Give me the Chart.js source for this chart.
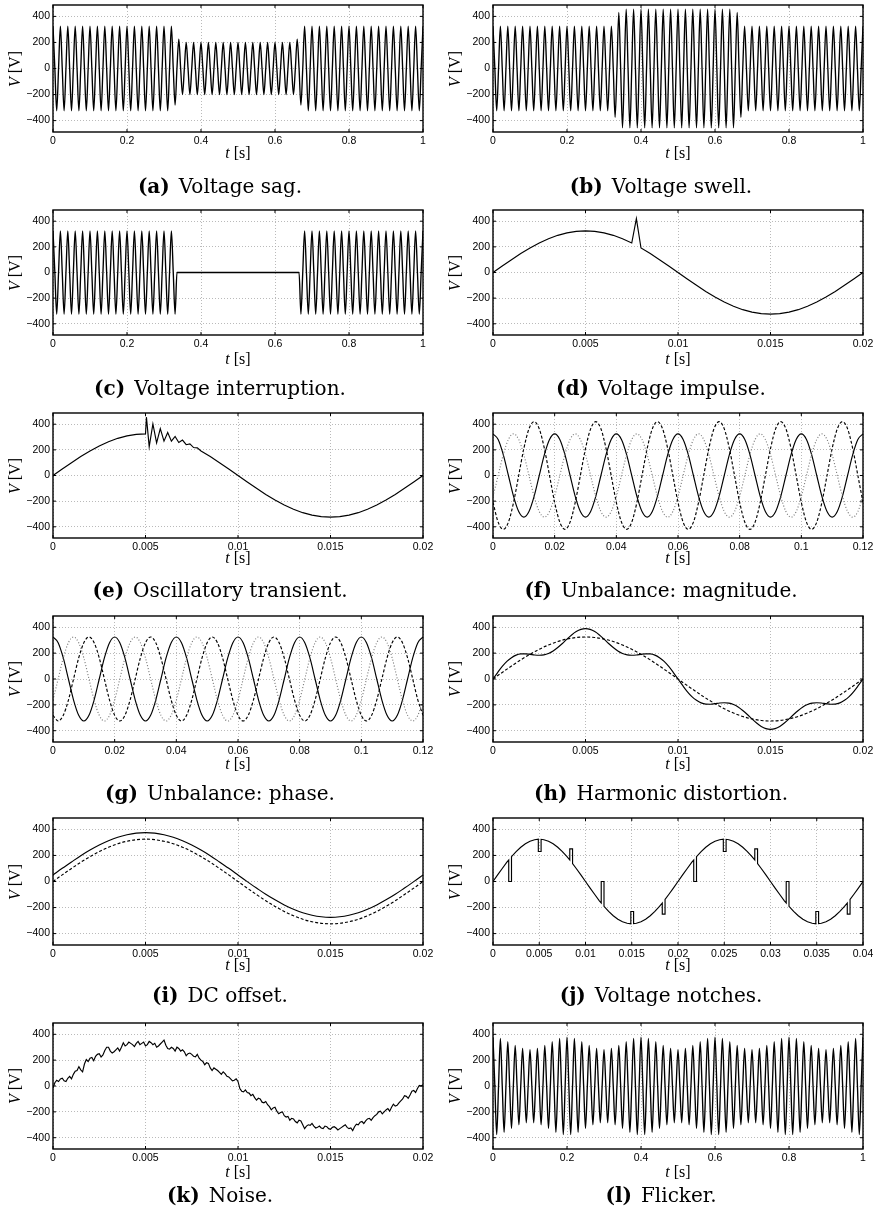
<!DOCTYPE html>
<html>
<head>
<meta charset="utf-8">
<script src="https://cdn.jsdelivr.net/npm/chart.js@4.4.0/dist/chart.umd.min.js"></script>
<style>
    body { margin: 0; background: #fff; width: 881px; height: 1216px; position: relative; overflow: hidden; }
    canvas { position: absolute; }
    .lab { position: absolute; font-family: 'Liberation Serif', serif; font-size: 16px; color: #000; white-space: nowrap; transform: translate(-50%, -50%); }
    .ylab { transform: translate(-50%, -50%) rotate(-90deg); }
    .cap { position: absolute; font-family: 'DejaVu Serif', serif; font-size: 20px; color: #000; white-space: nowrap; transform: translate(-50%, -50%); }
    .cap b { margin-right: 9px; }
</style>
</head>
<body>
<script>
// Tick values
const ticksV = [-400, -200, 0, 200, 400];
const ticksSec = [0, 0.2, 0.4, 0.6, 0.8, 1];
const ticksCycle = [0, 0.005, 0.01, 0.015, 0.02];
const ticksUnb = [0, 0.02, 0.04, 0.06, 0.08, 0.1, 0.12];
const ticksNotch = [0, 0.005, 0.01, 0.015, 0.02, 0.025, 0.03, 0.035, 0.04];

// Half-cycle peaks (one every 0.01 s) for the 1 s records
const sagPeaks = [
    325, -325, 325, -325, 325, -325, 325, -325, 325, -325,
    325, -325, 325, -325, 325, -325, 325, -325, 325, -325,
    325, -325, 325, -325, 325, -325, 325, -325, 325, -325,
    325, -325, 325, -280, 225, -200, 200, -200, 200, -200,
    200, -200, 200, -200, 200, -200, 200, -200, 200, -200,
    200, -200, 200, -200, 200, -200, 200, -200, 200, -200,
    200, -200, 200, -200, 200, -200, 225, -280, 325, -325,
    325, -325, 325, -325, 325, -325, 325, -325, 325, -325,
    325, -325, 325, -325, 325, -325, 325, -325, 325, -325,
    325, -325, 325, -325, 325, -325, 325, -325, 325, -325,
    325
];
const swellPeaks = [
    325, -325, 325, -325, 325, -325, 325, -325, 325, -325,
    325, -325, 325, -325, 325, -325, 325, -325, 325, -325,
    325, -325, 325, -325, 325, -325, 325, -325, 325, -325,
    325, -325, 325, -375, 430, -455, 455, -455, 455, -455,
    455, -455, 455, -455, 455, -455, 455, -455, 455, -455,
    455, -455, 455, -455, 455, -455, 455, -455, 455, -455,
    455, -455, 455, -455, 455, -455, 430, -375, 325, -325,
    325, -325, 325, -325, 325, -325, 325, -325, 325, -325,
    325, -325, 325, -325, 325, -325, 325, -325, 325, -325,
    325, -325, 325, -325, 325, -325, 325, -325, 325, -325,
    325
];
const interPeaks = [
    325, -325, 325, -325, 325, -325, 325, -325, 325, -325,
    325, -325, 325, -325, 325, -325, 325, -325, 325, -325,
    325, -325, 325, -325, 325, -325, 325, -325, 325, -325,
    325, -325, 325, -325, 0, 0, 0, 0, 0, 0,
    0, 0, 0, 0, 0, 0, 0, 0, 0, 0,
    0, 0, 0, 0, 0, 0, 0, 0, 0, 0,
    0, 0, 0, 0, 0, 0, 0, -325, 325, -325,
    325, -325, 325, -325, 325, -325, 325, -325, 325, -325,
    325, -325, 325, -325, 325, -325, 325, -325, 325, -325,
    325, -325, 325, -325, 325, -325, 325, -325, 325, -325,
    325
];
const flickerPeaks = [
    378, -375, 369, -358, 343, -328, 314, -300, 290, -284,
    282, -284, 290, -300, 314, -328, 343, -358, 369, -375,
    378, -375, 369, -358, 343, -328, 314, -300, 290, -284,
    282, -284, 290, -300, 314, -328, 343, -358, 369, -375,
    378, -375, 369, -358, 343, -328, 314, -300, 290, -284,
    282, -284, 290, -300, 314, -328, 343, -358, 369, -375,
    378, -375, 369, -358, 343, -328, 314, -300, 290, -284,
    282, -284, 290, -300, 314, -328, 343, -358, 369, -375,
    378, -375, 369, -358, 343, -328, 314, -300, 290, -284,
    282, -284, 290, -300, 314, -328, 343, -358, 369, -375,
    378
];

// One 20 ms cycle, samples every 0.5 ms
const baseSine = [
    0, 51, 100, 148, 191, 230, 263, 290, 309, 321, 325, 321, 309, 290, 263, 230, 191, 148, 100, 51,
    0, -51, -100, -148, -191, -230, -263, -290, -309, -321, -325, -321, -309, -290, -263, -230, -191, -148, -100, -51,
    0
];
const offsetV = [
    50, 101, 150, 198, 241, 280, 313, 340, 359, 371, 375, 371, 359, 340, 313, 280, 241, 198, 150, 101,
    50, -1, -50, -98, -141, -180, -213, -240, -259, -271, -275, -271, -259, -240, -213, -180, -141, -98, -50, -1,
    50
];

// Impulse
const impulseT = [
    0, 0.0005, 0.001, 0.0015, 0.002, 0.0025, 0.003, 0.0035, 0.004, 0.0045, 0.005, 0.0055, 0.006, 0.0065,
    0.007, 0.0075, 0.00775, 0.008, 0.0085, 0.009, 0.0095, 0.01, 0.0105, 0.011, 0.0115, 0.012, 0.0125,
    0.013, 0.0135, 0.014, 0.0145, 0.015, 0.0155, 0.016, 0.0165, 0.017, 0.0175, 0.018, 0.0185, 0.019, 0.0195, 0.02
];
const impulseV = [
    0, 51, 100, 148, 191, 230, 263, 290, 309, 321, 325, 321, 309, 290,
    263, 230, 420, 191, 148, 100, 51, 0, -51, -100, -148, -191, -230,
    -263, -290, -309, -321, -325, -321, -309, -290, -263, -230, -191, -148, -100, -51, 0
];

// Oscillatory transient
const oscT = [
    0, 0.0005, 0.001, 0.0015, 0.002, 0.0025, 0.003, 0.0035, 0.004, 0.0045, 0.005,
    0.00505, 0.0052, 0.0054, 0.0056, 0.0058, 0.006, 0.0062, 0.0064, 0.0066, 0.0068, 0.007, 0.0072, 0.0074, 0.0076, 0.0078, 0.008,
    0.0085, 0.009, 0.0095, 0.01, 0.0105, 0.011, 0.0115, 0.012, 0.0125, 0.013, 0.0135, 0.014, 0.0145, 0.015,
    0.0155, 0.016, 0.0165, 0.017, 0.0175, 0.018, 0.0185, 0.019, 0.0195, 0.02
];
const oscV = [
    0, 51, 100, 148, 191, 230, 263, 290, 309, 321, 325,
    455, 225, 402, 255, 366, 268, 335, 268, 305, 257, 276, 240, 246, 218, 216, 191,
    148, 100, 51, 0, -51, -100, -148, -191, -230, -263, -290, -309, -321, -325,
    -321, -309, -290, -263, -230, -191, -148, -100, -51, 0
];

// Three phases, samples every 30 degrees (0.12 s)
const unbA = [
    325, 281, 163, 0, -163, -281, -325, -281, -163, 0, 163, 281,
    325, 281, 163, 0, -163, -281, -325, -281, -163, 0, 163, 281,
    325, 281, 163, 0, -163, -281, -325, -281, -163, 0, 163, 281,
    325, 281, 163, 0, -163, -281, -325, -281, -163, 0, 163, 281,
    325, 281, 163, 0, -163, -281, -325, -281, -163, 0, 163, 281,
    325, 281, 163, 0, -163, -281, -325, -281, -163, 0, 163, 281,
    325
];
const unbB = [
    -210, -364, -420, -364, -210, 0, 210, 364, 420, 364, 210, 0,
    -210, -364, -420, -364, -210, 0, 210, 364, 420, 364, 210, 0,
    -210, -364, -420, -364, -210, 0, 210, 364, 420, 364, 210, 0,
    -210, -364, -420, -364, -210, 0, 210, 364, 420, 364, 210, 0,
    -210, -364, -420, -364, -210, 0, 210, 364, 420, 364, 210, 0,
    -210, -364, -420, -364, -210, 0, 210, 364, 420, 364, 210, 0,
    -210
];
const unbC = [
    -163, 0, 163, 281, 325, 281, 163, 0, -163, -281, -325, -281,
    -163, 0, 163, 281, 325, 281, 163, 0, -163, -281, -325, -281,
    -163, 0, 163, 281, 325, 281, 163, 0, -163, -281, -325, -281,
    -163, 0, 163, 281, 325, 281, 163, 0, -163, -281, -325, -281,
    -163, 0, 163, 281, 325, 281, 163, 0, -163, -281, -325, -281,
    -163, 0, 163, 281, 325, 281, 163, 0, -163, -281, -325, -281,
    -163
];
const phaseB = [
    -281, -325, -281, -163, 0, 163, 281, 325, 281, 163, 0, -163,
    -281, -325, -281, -163, 0, 163, 281, 325, 281, 163, 0, -163,
    -281, -325, -281, -163, 0, 163, 281, 325, 281, 163, 0, -163,
    -281, -325, -281, -163, 0, 163, 281, 325, 281, 163, 0, -163,
    -281, -325, -281, -163, 0, 163, 281, 325, 281, 163, 0, -163,
    -281, -325, -281, -163, 0, 163, 281, 325, 281, 163, 0, -163,
    -281
];

// Harmonic distortion, samples every 0.25 ms
const harmV = [
    0, 50, 97, 136, 165, 185, 194, 195, 191, 186, 184, 187, 198, 217, 244, 275, 309, 341, 367, 384,
    390, 384, 367, 341, 309, 275, 244, 217, 198, 187, 184, 186, 191, 195, 194, 185, 165, 136, 97, 50,
    0, -50, -97, -136, -165, -185, -194, -195, -191, -186, -184, -187, -198, -217, -244, -275, -309, -341, -367, -384,
    -390, -384, -367, -341, -309, -275, -244, -217, -198, -187, -184, -186, -191, -195, -194, -185, -165, -136, -97, -50,
    0
];

// Notches
const notchT = [
    0, 0.0005, 0.001, 0.0015, 0.0017, 0.0017, 0.002, 0.002, 0.0025, 0.003,
    0.0035, 0.004, 0.0045, 0.0049, 0.0049, 0.0052, 0.0052, 0.0055, 0.006, 0.0065,
    0.007, 0.0075, 0.008, 0.0083, 0.0083, 0.0086, 0.0086, 0.009, 0.0095, 0.01,
    0.0105, 0.011, 0.0115, 0.0117, 0.0117, 0.012, 0.012, 0.0125, 0.013, 0.0135,
    0.014, 0.0145, 0.0149, 0.0149, 0.0152, 0.0152, 0.0155, 0.016, 0.0165, 0.017,
    0.0175, 0.018, 0.0183, 0.0183, 0.0186, 0.0186, 0.019, 0.0195,
    0.02, 0.0205, 0.021, 0.0215, 0.0217, 0.0217, 0.022, 0.022, 0.0225, 0.023,
    0.0235, 0.024, 0.0245, 0.0249, 0.0249, 0.0252, 0.0252, 0.0255, 0.026, 0.0265,
    0.027, 0.0275, 0.028, 0.0283, 0.0283, 0.0286, 0.0286, 0.029, 0.0295, 0.03,
    0.0305, 0.031, 0.0315, 0.0317, 0.0317, 0.032, 0.032, 0.0325, 0.033, 0.0335,
    0.034, 0.0345, 0.0349, 0.0349, 0.0352, 0.0352, 0.0355, 0.036, 0.0365, 0.037,
    0.0375, 0.038, 0.0383, 0.0383, 0.0386, 0.0386, 0.039, 0.0395,
    0.04
];
const notchV = [
    0, 51, 100, 148, 165, 0, 0, 191, 230, 263,
    290, 309, 321, 325, 230, 230, 324, 321, 309, 290,
    263, 230, 191, 165, 250, 250, 138, 100, 51, 0,
    -51, -100, -148, -165, 0, 0, -191, -230, -263, -290,
    -309, -321, -325, -230, -230, -324, -321, -309, -290, -263,
    -230, -191, -165, -250, -250, -138, -100, -51,
    0, 51, 100, 148, 165, 0, 0, 191, 230, 263,
    290, 309, 321, 325, 230, 230, 324, 321, 309, 290,
    263, 230, 191, 165, 250, 250, 138, 100, 51, 0,
    -51, -100, -148, -165, 0, 0, -191, -230, -263, -290,
    -309, -321, -325, -230, -230, -324, -321, -309, -290, -263,
    -230, -191, -165, -250, -250, -138, -100, -51,
    0
];

// Noisy cycle, samples every 0.1 ms
const noiseV = [
    -15, 25, 45, 35, 55, 60, 40, 35, 60, 75, 55, 90, 115, 120, 150, 125, 110, 170, 205, 190,
    215, 220, 195, 230, 245, 250, 225, 240, 275, 300, 300, 270, 255, 265, 280, 295, 270, 300, 335, 310,
    320, 340, 330, 320, 305, 330, 345, 320, 330, 340, 310, 320, 345, 335, 320, 330, 300, 310, 325, 340,
    355, 315, 290, 285, 300, 290, 270, 300, 290, 270, 280, 265, 235, 250, 255, 245, 230, 225, 245, 215,
    200, 190, 165, 180, 175, 140, 120, 140, 130, 120, 105, 90, 110, 95, 75, 70, 55, 40, 45, 55,
    35, -20, -40, -45, -30, -50, -55, -75, -65, -90, -110, -95, -100, -125, -130, -120, -145, -160, -185, -170,
    -165, -195, -215, -205, -200, -230, -240, -235, -265, -250, -255, -275, -285, -265, -270, -300, -330, -310, -300, -305,
    -290, -310, -325, -320, -310, -325, -330, -310, -315, -330, -335, -320, -315, -325, -340, -330, -320, -310, -300, -320,
    -330, -325, -345, -315, -295, -300, -280, -275, -290, -270, -255, -250, -265, -245, -230, -220, -200, -195, -215, -200,
    -185, -175, -195, -165, -140, -155, -150, -130, -115, -100, -75, -80, -95, -70, -40, -35, -50, -20, 5, 0,
    10
];

// ---------- helpers ----------
function byStep(values, step) {
    return values.map((v, i) => i * step);
}

// peaks every 0.01 s with zero crossings in between
function halfCycles(peaks) {
    const t = [], v = [];
    peaks.forEach((p, k) => {
        t.push(k * 0.01); v.push(p);
        if (k < peaks.length - 1) { t.push(k * 0.01 + 0.005); v.push(0); }
    });
    return { t: t, v: v, style: 'solid', smooth: true, width: 1.35 };
}

function line(t, v, style, smooth) {
    return { t: t, v: v, style: style || 'solid', smooth: !!smooth, width: 1.15 };
}

const styles = {
    solid: { color: '#000', dash: [] },
    dashed: { color: '#000', dash: [3, 2] },
    dotted: { color: '#777', dash: [1, 2] }
};

const panels = [
    { tag: '(a)', text: 'Voltage sag.', xmax: 1, xticks: ticksSec, lines: [halfCycles(sagPeaks)] },
    { tag: '(b)', text: 'Voltage swell.', xmax: 1, xticks: ticksSec, lines: [halfCycles(swellPeaks)] },
    { tag: '(c)', text: 'Voltage interruption.', xmax: 1, xticks: ticksSec, lines: [halfCycles(interPeaks)] },
    { tag: '(d)', text: 'Voltage impulse.', xmax: 0.02, xticks: ticksCycle, lines: [line(impulseT, impulseV)] },
    { tag: '(e)', text: 'Oscillatory transient.', xmax: 0.02, xticks: ticksCycle, lines: [line(oscT, oscV)] },
    { tag: '(f)', text: 'Unbalance: magnitude.', xmax: 0.12, xticks: ticksUnb, lines: [
        line(byStep(unbC, 0.02 / 12), unbC, 'dotted', true),
        line(byStep(unbB, 0.02 / 12), unbB, 'dashed', true),
        line(byStep(unbA, 0.02 / 12), unbA, 'solid', true)] },
    { tag: '(g)', text: 'Unbalance: phase.', xmax: 0.12, xticks: ticksUnb, lines: [
        line(byStep(unbC, 0.02 / 12), unbC, 'dotted', true),
        line(byStep(phaseB, 0.02 / 12), phaseB, 'dashed', true),
        line(byStep(unbA, 0.02 / 12), unbA, 'solid', true)] },
    { tag: '(h)', text: 'Harmonic distortion.', xmax: 0.02, xticks: ticksCycle, lines: [
        line(byStep(baseSine, 0.0005), baseSine, 'dashed', true),
        line(byStep(harmV, 0.00025), harmV, 'solid', true)] },
    { tag: '(i)', text: 'DC offset.', xmax: 0.02, xticks: ticksCycle, lines: [
        line(byStep(baseSine, 0.0005), baseSine, 'dashed', true),
        line(byStep(offsetV, 0.0005), offsetV, 'solid', true)] },
    { tag: '(j)', text: 'Voltage notches.', xmax: 0.04, xticks: ticksNotch, lines: [line(notchT, notchV)] },
    { tag: '(k)', text: 'Noise.', xmax: 0.02, xticks: ticksCycle, lines: [line(byStep(noiseV, 0.0001), noiseV)] },
    { tag: '(l)', text: 'Flicker.', xmax: 1, xticks: ticksSec, lines: [halfCycles(flickerPeaks)] }
];

// ---------- layout (px) ----------
const plotLeft = [53, 493];
const plotW = 370;
const plotTop = [5, 210, 413, 616, 818, 1023];
const plotH = [127, 125, 125, 126, 127, 126];
const tLabelGap = [21, 24, 20, 22, 20, 23];
const capY = [186, 388, 590, 793, 995, 1195];
const capX = [220, 661];
const yLabX = [15, 455];
const PAD_L = 48, PAD_R = 26, PAD_T = 12, PAD_B = 20;

// frame with inward ticks
const boxPlugin = {
    id: 'box',
    afterDraw(chart) {
        const { ctx, chartArea: a, scales } = chart;
        const x = scales.x, y = scales.y;
        ctx.save();
        ctx.strokeStyle = '#000';
        ctx.lineWidth = 1;
        ctx.beginPath();
        x.ticks.forEach(t => {
            const px = x.getPixelForValue(t.value);
            ctx.moveTo(px, a.bottom); ctx.lineTo(px, a.bottom - 3);
            ctx.moveTo(px, a.top); ctx.lineTo(px, a.top + 3);
        });
        y.ticks.forEach(t => {
            const py = y.getPixelForValue(t.value);
            ctx.moveTo(a.left, py); ctx.lineTo(a.left + 3, py);
            ctx.moveTo(a.right, py); ctx.lineTo(a.right - 3, py);
        });
        ctx.stroke();
        ctx.lineWidth = 1.4;
        ctx.strokeRect(a.left, a.top, a.right - a.left, a.bottom - a.top);
        ctx.restore();
    }
};

function addText(cls, html, x, y) {
    const d = document.createElement('div');
    d.className = cls;
    d.innerHTML = html;
    d.style.left = x + 'px';
    d.style.top = y + 'px';
    document.body.appendChild(d);
}

const tickFont = { family: "'Liberation Sans', Arial, sans-serif", size: 10.5 };

panels.forEach((p, i) => {
    const col = i % 2, row = Math.floor(i / 2);
    const left = plotLeft[col], top = plotTop[row], h = plotH[row];
    const W = PAD_L + plotW + PAD_R, H = PAD_T + h + PAD_B;

    const cv = document.createElement('canvas');
    cv.width = W; cv.height = H;
    cv.style.left = (left - PAD_L) + 'px';
    cv.style.top = (top - PAD_T) + 'px';
    cv.style.width = W + 'px';
    cv.style.height = H + 'px';
    document.body.appendChild(cv);

    new Chart(cv, {
        type: 'line',
        data: {
            datasets: p.lines.map(l => ({
                data: l.t.map((t, j) => ({ x: t, y: l.v[j] })),
                borderColor: styles[l.style].color,
                borderDash: styles[l.style].dash,
                borderWidth: l.width,
                pointRadius: 0,
                fill: false,
                tension: 0,
                cubicInterpolationMode: l.smooth ? 'monotone' : 'default'
            }))
        },
        options: {
            responsive: false,
            animation: false,
            events: [],
            layout: { padding: { left: 0, top: PAD_T, right: PAD_R, bottom: 0 } },
            plugins: { legend: { display: false }, tooltip: { enabled: false } },
            scales: {
                x: {
                    type: 'linear',
                    min: 0,
                    max: p.xmax,
                    afterBuildTicks: s => { s.ticks = p.xticks.map(v => ({ value: v })); },
                    afterFit: s => { s.height = PAD_B; },
                    ticks: { padding: 3, maxRotation: 0, autoSkip: false, color: '#000', font: tickFont,
                        callback: v => String(v) },
                    grid: { color: '#a8a8a8', lineWidth: 0.8, drawTicks: false },
                    border: { display: false, dash: [1, 2] }
                },
                y: {
                    type: 'linear',
                    min: -487.5,
                    max: 487.5,
                    afterBuildTicks: s => { s.ticks = ticksV.map(v => ({ value: v })); },
                    afterFit: s => { s.width = PAD_L; },
                    ticks: { padding: 3, color: '#000', font: tickFont,
                        callback: v => v < 0 ? '\u2212' + (-v) : String(v) },
                    grid: { color: '#a8a8a8', lineWidth: 0.8, drawTicks: false },
                    border: { display: false, dash: [1, 2] }
                }
            }
        },
        plugins: [boxPlugin]
    });

    addText('lab', '<i>t</i> [s]', left + plotW / 2, top + h + tLabelGap[row]);
    addText('lab ylab', '<i>V</i> [V]', yLabX[col], top + h / 2);
    addText('cap', '<b>' + p.tag + '</b>' + p.text, capX[col], capY[row]);
});
</script>
</body>
</html>
